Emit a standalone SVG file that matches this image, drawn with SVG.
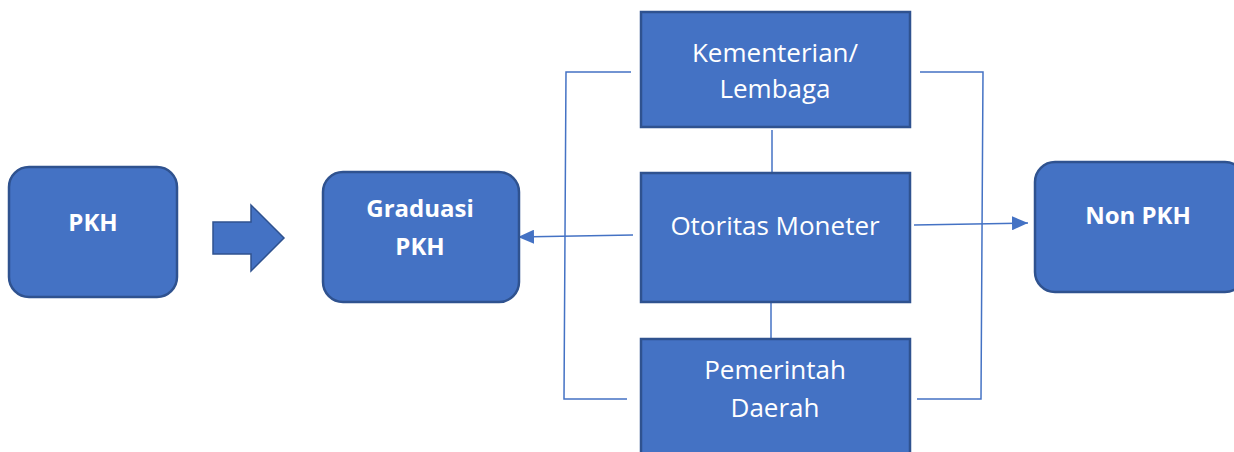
<svg xmlns="http://www.w3.org/2000/svg" width="1234" height="452" viewBox="0 0 1234 452">
<style>
.box{fill:#4472C4;stroke:#2F528F;stroke-width:2.5}
.t{fill:#fff;font-family:"Open Sans","Noto Sans",sans-serif;font-size:26px;text-anchor:middle}
.b{font-weight:bold;font-size:24px}
.c{fill:none;stroke:#4472C4;stroke-width:1.5}
</style>
<defs>
<marker id="ah2" markerWidth="16" markerHeight="14" refX="16" refY="7" orient="auto" markerUnits="userSpaceOnUse" viewBox="0 0 16 14">
<path d="M0,0 L16,7 L0,14 z" fill="#4472C4"/>
</marker>
</defs>
<g id="connectors">
<polyline class="c" points="631,72 566,72 564,399 627,399"/>
<polyline class="c" points="920,72 983,72 981,399 917,399"/>
<line class="c" x1="772" y1="130" x2="772" y2="173"/>
<line class="c" x1="771" y1="302" x2="771" y2="339"/>
<line class="c" x1="633" y1="235" x2="518" y2="237" marker-end="url(#ah2)"/>
<line class="c" x1="914" y1="225" x2="1028" y2="223" marker-end="url(#ah2)"/>
<path id="blockarrow" d="M213,222 L251,222 L251,205 L284,238 L251,271 L251,254 L213,254 z" fill="#4472C4" stroke="#2F528F" stroke-width="1.5"/>
</g>
<g id="pkh">
<rect class="box" x="9" y="167" width="168" height="130" rx="20"/>
<text class="t b" x="93" y="231">PKH</text>
</g>
<g id="graduasi">
<rect class="box" x="323" y="172" width="196" height="130" rx="20"/>
<text class="t b" x="420" y="217">Graduasi</text>
<text class="t b" x="420" y="255">PKH</text>
</g>
<g id="kementerian">
<rect class="box" x="641" y="12" width="269" height="115"/>
<text class="t" x="775" y="62">Kementerian/</text>
<text class="t" x="775" y="98">Lembaga</text>
</g>
<g id="otoritas">
<rect class="box" x="641" y="173" width="269" height="129"/>
<text class="t" x="775" y="235">Otoritas Moneter</text>
</g>
<g id="pemerintah">
<rect class="box" x="641" y="339" width="269" height="130"/>
<text class="t" x="775" y="379">Pemerintah</text>
<text class="t" x="775" y="417">Daerah</text>
</g>
<g id="nonpkh">
<rect class="box" x="1035" y="162" width="210" height="130" rx="20"/>
<text class="t b" x="1138" y="224">Non PKH</text>
</g>
</svg>
